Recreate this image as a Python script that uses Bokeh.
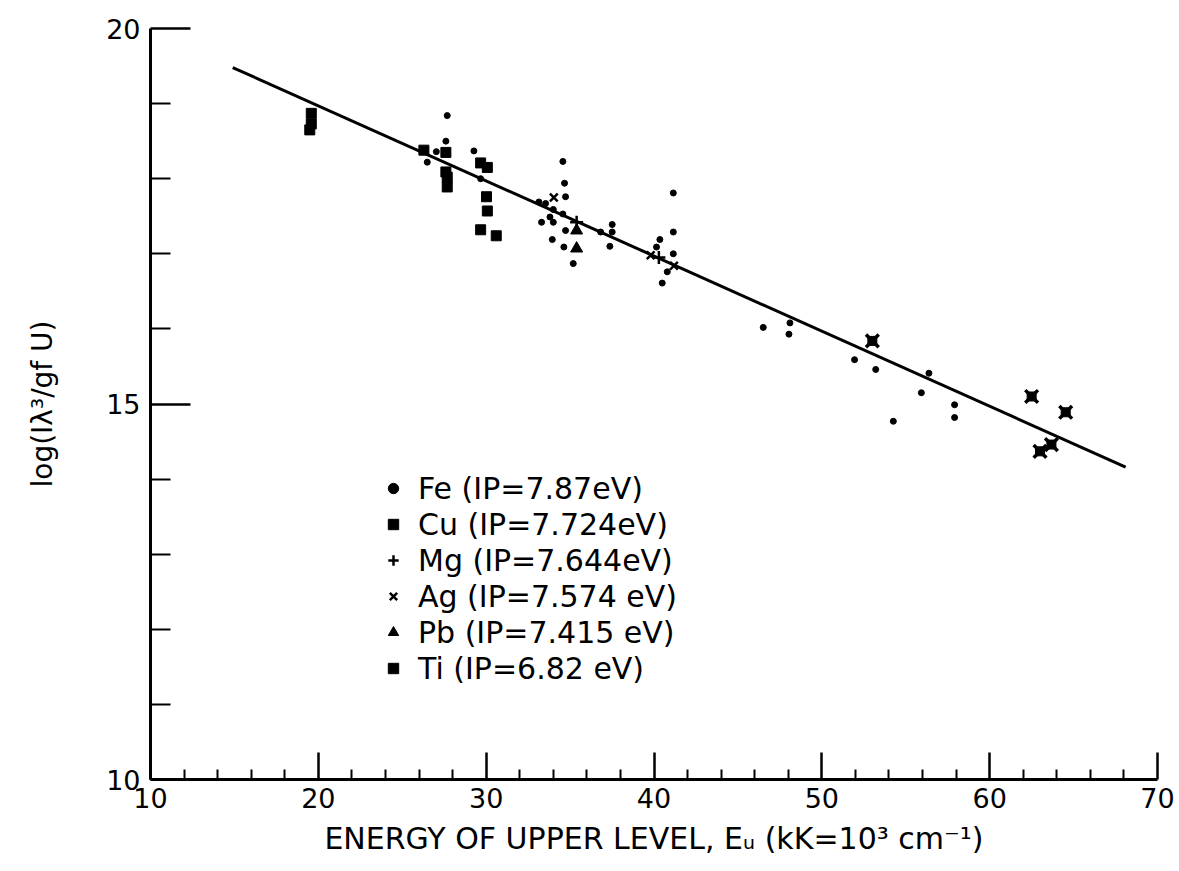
from bokeh.plotting import figure
from bokeh.models import Range1d, FixedTicker, Legend, LegendItem
from bokeh.embed import file_html
from bokeh.resources import INLINE

# ---- data ----
FE_X = [26.49, 27.03, 27.68, 27.6, 29.27, 29.67, 34.57, 34.67, 34.73, 33.54,
        33.14, 34.0, 33.8, 33.3, 34.0, 34.57, 34.73, 33.94, 34.63, 35.19,
        36.82, 37.51, 37.51, 37.37, 41.15, 41.15, 40.35, 40.15, 41.15, 40.79,
        40.49, 46.51, 48.1, 48.04, 51.95, 53.21, 56.38, 55.93, 57.91, 57.91,
        54.26]
FE_Y = [18.22, 18.36, 18.84, 18.5, 18.37, 18.0, 18.23, 17.94, 17.76, 17.67,
        17.69, 17.59, 17.49, 17.42, 17.42, 17.53, 17.31, 17.19, 17.09, 16.87,
        17.29, 17.39, 17.29, 17.1, 17.81, 17.29, 17.19, 17.09, 17.0, 16.76,
        16.61, 16.02, 16.08, 15.93, 15.59, 15.46, 15.41, 15.15, 14.99, 14.82,
        14.77]

CU_X = [53.01, 62.5, 64.53, 63.68, 63.0]
CU_Y = [15.84, 15.1, 14.89, 14.46, 14.37]

MG_X = [35.39, 40.29]
MG_Y = [17.42, 16.95]

AG_X = [34.03, 39.8, 41.19]
AG_Y = [17.75, 16.98, 16.84]

PB_X = [35.39, 35.39]
PB_Y = [17.31, 17.07]

TI_X = [19.58, 19.58, 19.49, 26.29, 27.6, 27.6, 27.68, 27.68, 29.67, 30.07,
        30.02, 30.07, 29.67, 30.6]
TI_Y = [18.87, 18.73, 18.65, 18.38, 18.35, 18.09, 18.02, 17.89, 18.21, 18.15,
        17.76, 17.57, 17.32, 17.24]

LINE_X = [14.9, 68.1]
LINE_Y = [19.48, 14.16]

LABELS = ["Fe (IP=7.87eV)", "Cu (IP=7.724eV)", "Mg (IP=7.644eV)",
          "Ag (IP=7.574 eV)", "Pb (IP=7.415 eV)", "Ti (IP=6.82 eV)"]

X_TICKS = [10, 20, 30, 40, 50, 60, 70]
X_MINOR = [12, 14, 16, 18, 22, 24, 26, 28, 32, 34, 36, 38, 42, 44, 46, 48,
           52, 54, 56, 58, 62, 64, 66, 68]
Y_TICKS = [10, 15, 20]
Y_MINOR = [11, 12, 13, 14, 16, 17, 18, 19]

FONT = "DejaVu Sans"

p = figure(width=1179, height=871, output_backend="svg", toolbar_location=None,
           x_range=Range1d(10, 70), y_range=Range1d(10, 20),
           min_border_left=150, min_border_right=22, min_border_top=28,
           min_border_bottom=92)
p.grid.visible = False
p.outline_line_color = None
p.background_fill_color = "white"

for ax in (p.xaxis[0], p.yaxis[0]):
    ax.axis_line_width = 3
    ax.axis_line_color = "black"
    ax.major_tick_line_width = 2.5
    ax.minor_tick_line_width = 2
    ax.major_tick_out = 0
    ax.minor_tick_out = 0
    ax.major_label_text_font = FONT
    ax.major_label_text_font_size = "27px"
    ax.major_label_text_color = "black"
    ax.axis_label_text_font = FONT
    ax.axis_label_text_font_style = "normal"
    ax.axis_label_text_color = "black"

p.xaxis[0].ticker = FixedTicker(ticks=X_TICKS, minor_ticks=X_MINOR)
p.xaxis[0].major_tick_in = 27
p.xaxis[0].minor_tick_in = 10
p.xaxis[0].major_label_standoff = 8
p.xaxis[0].axis_label = "ENERGY OF UPPER LEVEL, E\u1d64 (kK=10\u00b3 cm\u207b\u00b9)"
p.xaxis[0].axis_label_text_font_size = "30px"
p.xaxis[0].axis_label_standoff = 10

p.yaxis[0].ticker = FixedTicker(ticks=Y_TICKS, minor_ticks=Y_MINOR)
p.yaxis[0].major_tick_in = 40
p.yaxis[0].minor_tick_in = 20
p.yaxis[0].major_label_standoff = 10
p.yaxis[0].axis_label = "log(I\u03bb\u00b3/gf U)"
p.yaxis[0].axis_label_text_font_size = "28px"
p.yaxis[0].axis_label_standoff = 44

p.line(LINE_X, LINE_Y, line_width=3, line_color="black")

r_fe = p.scatter(FE_X, FE_Y, marker="circle", size=6, color="black")
r_cu1 = p.scatter(CU_X, CU_Y, marker="x", size=18, line_width=3.5, line_color="black")
r_cu2 = p.scatter(CU_X, CU_Y, marker="square", size=9, fill_color="black", line_color="black")
r_mg = p.scatter(MG_X, MG_Y, marker="cross", size=13, line_width=2.5, line_color="black")
r_ag = p.scatter(AG_X, AG_Y, marker="x", size=11, line_width=2.5, line_color="black")
r_pb = p.scatter(PB_X, PB_Y, marker="triangle", size=12, fill_color="black", line_color="black")
r_ti = p.scatter(TI_X, TI_Y, marker="square", size=10, fill_color="black", line_color="black")

items = [
    LegendItem(label=LABELS[0], renderers=[r_fe]),
    LegendItem(label=LABELS[1], renderers=[r_cu1, r_cu2]),
    LegendItem(label=LABELS[2], renderers=[r_mg]),
    LegendItem(label=LABELS[3], renderers=[r_ag]),
    LegendItem(label=LABELS[4], renderers=[r_pb]),
    LegendItem(label=LABELS[5], renderers=[r_ti]),
]
legend = Legend(items=items, location=(230, 93), padding=0, margin=0,
                spacing=0, glyph_width=26, glyph_height=36, label_height=36,
                label_standoff=12, label_text_font=FONT,
                label_text_font_size="30px", label_text_color="black",
                border_line_color=None, background_fill_alpha=0)
p.add_layout(legend, "center")

open("out.html", "w").write(file_html(p, INLINE))
